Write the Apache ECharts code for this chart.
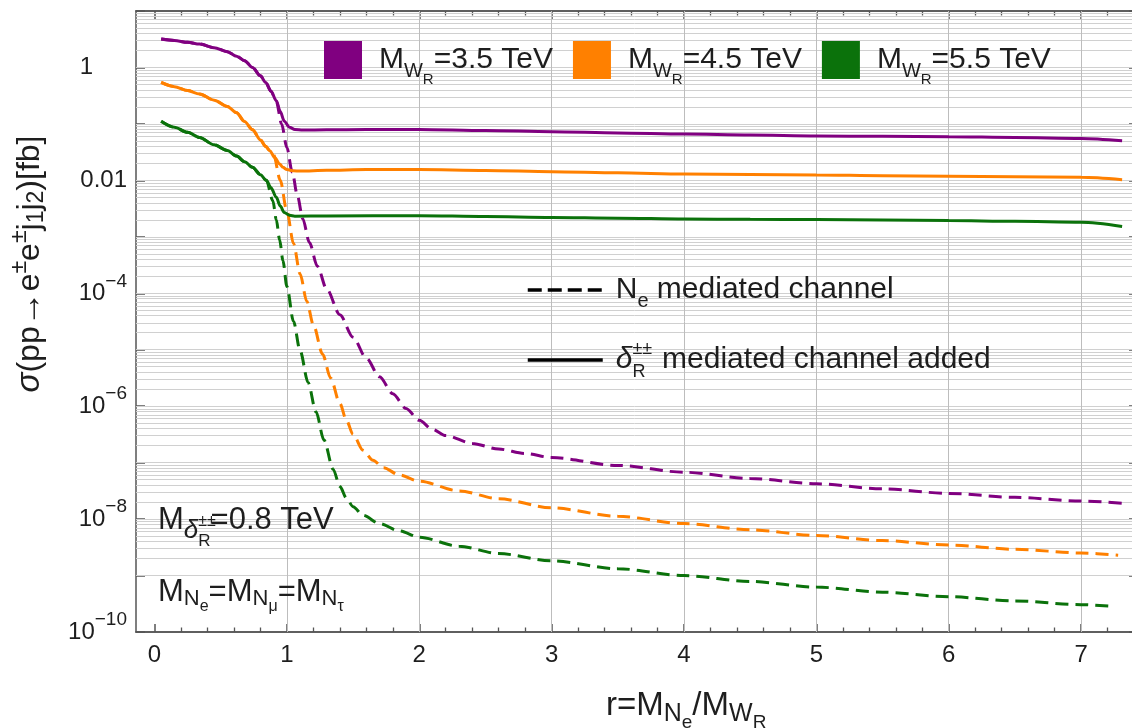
<!DOCTYPE html>
<html><head><meta charset="utf-8">
<script src="https://cdn.jsdelivr.net/npm/echarts@6/dist/echarts.min.js"></script>
<style>html,body{margin:0;padding:0;background:#fff}#c{width:1132px;height:728px}</style>
</head><body><div id="c"></div>
<script>
// ---------------- data (r = M_Ne / M_WR, sigma in fb) ----------------
const massLabels = ['3.5', '4.5', '5.5'];
const colors = ['#800080', '#ff8000', '#0b720b'];

const purpleSolid = [[0.05,3.18],[0.15,3.0],[0.25,2.79],[0.34,2.6],[0.45,2.24],[0.55,1.9],[0.62,1.58],[0.68,1.32],[0.74,1.0],[0.80,0.71],[0.84,0.54],[0.88,0.38],[0.92,0.257],[0.95,0.166],[0.98,0.112],[1.02,0.087],[1.06,0.080],[1.12,0.078],[1.3,0.0785],[1.6,0.0794],[2.0,0.080],[2.5,0.0767],[3.0,0.0728],[3.5,0.0692],[4.0,0.066],[4.5,0.0634],[5.0,0.0612],[5.5,0.0603],[6.0,0.0594],[6.5,0.0575],[7.0,0.0553],[7.31,0.0504]];
const purpleDashed = [[0.05,3.18],[0.15,3.0],[0.25,2.79],[0.34,2.6],[0.45,2.24],[0.55,1.9],[0.62,1.58],[0.68,1.32],[0.74,1.0],[0.80,0.71],[0.84,0.54],[0.88,0.38],[0.92,0.251],[0.96,0.1],[1.0,0.038],[1.04,0.0141],[1.08,5.25e-3],[1.12,2.09e-3],[1.17,7.94e-4],[1.23,3.02e-4],[1.3,1.2e-4],[1.4,4.17e-5],[1.5,1.66e-5],[1.6,7.08e-6],[1.7,3.31e-6],[1.8,1.66e-6],[1.9,9.12e-7],[2.0,5.62e-7],[2.1,3.89e-7],[2.2,3.02e-7],[2.4,2.19e-7],[2.6,1.74e-7],[2.8,1.45e-7],[3.0,1.23e-7],[3.5,8.91e-8],[4.0,6.76e-8],[4.5,5.25e-8],[5.0,4.22e-8],[5.5,3.43e-8],[6.0,2.85e-8],[6.5,2.43e-8],[7.0,2.09e-8],[7.31,1.91e-8]];

const orangeSolid = [[0.05,0.543],[0.15,0.457],[0.25,0.389],[0.34,0.339],[0.45,0.263],[0.55,0.204],[0.62,0.158],[0.68,0.11],[0.74,0.079],[0.80,0.052],[0.84,0.04],[0.87,0.0336],[0.91,0.0251],[0.945,0.0195],[0.97,0.017],[1.0,0.0155],[1.05,0.0148],[1.1,0.0146],[1.3,0.0151],[1.6,0.0155],[2.0,0.0155],[2.5,0.015],[3.0,0.01426],[3.5,0.01365],[4.0,0.01294],[4.5,0.01274],[5.0,0.01245],[5.5,0.0121],[6.0,0.01186],[6.5,0.0116],[7.0,0.0113],[7.31,0.01028]];
const orangeDashed = [[0.05,0.543],[0.15,0.457],[0.25,0.389],[0.34,0.339],[0.45,0.263],[0.55,0.204],[0.62,0.158],[0.68,0.11],[0.74,0.079],[0.80,0.052],[0.84,0.04],[0.87,0.0336],[0.90,0.0282],[0.95,0.01],[1.0,2.82e-3],[1.05,7.59e-4],[1.1,2.19e-4],[1.15,7.24e-5],[1.2,2.75e-5],[1.27,8.32e-6],[1.33,3.16e-6],[1.4,1.12e-6],[1.45,5.62e-7],[1.5,3.16e-7],[1.575,1.66e-7],[1.65,1.10e-7],[1.73,8.13e-8],[1.85,6.03e-8],[2.0,4.68e-8],[2.3,3.16e-8],[2.6,2.29e-8],[3.0,1.58e-8],[3.5,1.12e-8],[4.0,8.32e-9],[4.5,6.46e-9],[5.0,5.13e-9],[5.5,4.17e-9],[6.0,3.47e-9],[6.5,2.92e-9],[7.0,2.51e-9],[7.28,2.29e-9]];

const greenSolid = [[0.05,0.111],[0.15,0.087],[0.25,0.071],[0.34,0.0575],[0.45,0.0427],[0.55,0.0339],[0.62,0.0269],[0.68,0.0214],[0.74,0.017],[0.80,0.0126],[0.845,0.01],[0.88,7.4e-3],[0.92,5.0e-3],[0.95,3.5e-3],[0.98,2.7e-3],[1.02,2.4e-3],[1.06,2.32e-3],[1.3,2.34e-3],[2.0,2.37e-3],[2.5,2.29e-3],[3.0,2.21e-3],[3.5,2.14e-3],[4.0,2.07e-3],[4.5,2.04e-3],[5.0,2.02e-3],[5.5,1.98e-3],[6.0,1.94e-3],[6.5,1.88e-3],[7.0,1.81e-3],[7.31,1.53e-3]];
const greenDashed = [[0.05,0.111],[0.15,0.087],[0.25,0.071],[0.34,0.0575],[0.45,0.0427],[0.55,0.0339],[0.62,0.0269],[0.68,0.0214],[0.74,0.017],[0.80,0.0126],[0.845,0.01],[0.894,4.37e-3],[0.92,2.0e-3],[0.945,8.9e-4],[0.97,3.8e-4],[1.0,1.32e-4],[1.05,3.16e-5],[1.1,9.55e-6],[1.16,2.63e-6],[1.22,7.94e-7],[1.28,2.51e-7],[1.35,7.59e-8],[1.4,3.8e-8],[1.45,2.34e-8],[1.5,1.66e-8],[1.575,1.17e-8],[1.7,8.32e-9],[1.85,6.17e-9],[2.0,4.79e-9],[2.3,3.31e-9],[2.6,2.45e-9],[3.0,1.82e-9],[3.5,1.32e-9],[4.0,1.0e-9],[4.5,7.85e-10],[5.0,6.24e-10],[5.5,5.07e-10],[6.0,4.22e-10],[6.5,3.55e-10],[7.0,3.05e-10],[7.23,2.85e-10]];

// tick labels / tick positions
const xTickValues = [0, 1, 2, 3, 4, 5, 6, 7];
const yTickValues = [1e-10, 1e-9, 1e-8, 1e-7, 1e-6, 1e-5, 1e-4, 1e-3, 1e-2, 1e-1, 1, 10];
const yLabelValues = [1e-10, 1e-8, 1e-6, 1e-4, 1e-2, 1];
const yLabelText = {'-10':'{b|10}{p|\u221210}', '-8':'{b|10}{p|\u22128}', '-6':'{b|10}{p|\u22126}', '-4':'{b|10}{p|\u22124}', '-2':'{b|0.01}', '0':'{one|1}'};

// ---------------- helpers (grid / minor tick positions) ----------------
const X_MIN = -0.14, X_MAX = 7.43;
const xMinorValues = [];
for (let i = 0; i <= 37; i++) { const v = Math.round(i * 2) / 10; if (v % 1 !== 0 && v < X_MAX) xMinorValues.push(v); }
const gridY = [];
for (let n = -9; n <= 0; n++) for (let k = 1; k <= 9; k++) gridY.push(Number((k * Math.pow(10, n)).toPrecision(3)));
const gridX = [1, 2, 3, 4, 5, 6, 7];

const FONT = '"Liberation Sans", Arial, sans-serif';
const TXT = '#1e1e1e';
const AX = '#555';

function st(size, extra) { return Object.assign({fontSize: size, fontFamily: FONT, color: TXT}, extra || {}); }
const rich = {
  // legend text (30px)
  t: st(30),
  m: st(30, {padding: [0, 0, 0, 12]}),
  n: st(30, {padding: [0, 0, 0, 8]}),
  d: st(30, {fontStyle: 'italic', padding: [0, 0, 0, 8]}),
  s: st(20, {padding: [22, 0, 0, 0]}),
  ss: st(15, {padding: [40, 0, 0, 0]}),
  pz2: st(18, {width: 0, padding: [0, 0, 22, 0]}),
  rs2: st(18, {padding: [24, 0, 0, 0]}),
  // annotations
  A: st(31),
  As: st(22, {padding: [14, 0, 0, 0]}),
  Ass: st(16, {padding: [30, 0, 0, 0]}),
  Asd: st(26, {fontStyle: 'italic', padding: [22, 0, 0, 0]}),
  Apz: st(16, {width: 0, padding: [4, 0, 0, 0]}),
  Ars: st(17, {padding: [42, 0, 0, 0]}),
  // y title
  T: st(32),
  Tit: st(33, {fontStyle: 'italic'}),
  Ta: st(35),
  Tp: st(23, {padding: [0, 0, 20, 0]}),
  Tsj: st(23, {padding: [14, 0, 0, 0]}),
  // x title
  X: st(33),
  Xs: st(25, {padding: [16, 0, 0, 0]}),
  Xss: st(19, {padding: [34, 0, 0, 0]})
};

const chart = echarts.init(document.getElementById('c'), null, {renderer: 'canvas'});

function curve(name, data, color, dashed, z) {
  return {
    type: 'line', name: name, data: data, xAxisIndex: 0, yAxisIndex: 0,
    showSymbol: false, symbol: 'none', smooth: 0.3, smoothMonotone: 'x', z: z,
    lineStyle: {color: color, width: 3, type: dashed ? [13, 7] : 'solid'},
    itemStyle: {color: color}, emphasis: {disabled: true}, silent: true
  };
}

const xCommon = {
  type: 'value', min: X_MIN, max: X_MAX, splitLine: {show: false},
  axisLine: {show: true, onZero: false, lineStyle: {color: AX, width: 1.5}}
};
const yCommon = {
  type: 'log', logBase: 10, min: 1e-10, max: 10, splitLine: {show: false},
  axisLine: {show: true, onZero: false, lineStyle: {color: AX, width: 1.5}}
};

const option = {
  animation: false,
  backgroundColor: '#ffffff',
  grid: {left: 136, top: 11, width: 1002, height: 621, containLabel: false, outerBoundsMode: 'none'},
  xAxis: [
    Object.assign({}, xCommon, {position: 'bottom',
      axisTick: {show: true, inside: true, length: 8, customValues: xTickValues, lineStyle: {color: AX, width: 1.5}},
      axisLabel: {show: true, customValues: xTickValues, margin: 11, fontSize: 24, fontFamily: FONT, color: TXT, formatter: v => String(v)}}),
    Object.assign({}, xCommon, {position: 'bottom',
      axisTick: {show: true, inside: true, length: 4.5, customValues: xMinorValues, lineStyle: {color: AX, width: 1.3}},
      axisLabel: {show: false}}),
    Object.assign({}, xCommon, {position: 'top',
      axisTick: {show: true, inside: true, length: 8, customValues: xTickValues, lineStyle: {color: AX, width: 1.5}},
      axisLabel: {show: false}}),
    Object.assign({}, xCommon, {position: 'top',
      axisTick: {show: true, inside: true, length: 4.5, customValues: xMinorValues, lineStyle: {color: AX, width: 1.3}},
      axisLabel: {show: false}})
  ],
  yAxis: [
    Object.assign({}, yCommon, {position: 'left',
      axisTick: {show: true, inside: true, length: 9, customValues: yTickValues, lineStyle: {color: AX, width: 1.5}},
      axisLabel: {show: true, customValues: yLabelValues, margin: 9, color: TXT, fontFamily: FONT,
        formatter: v => yLabelText[String(Math.round(Math.log10(v)))] || '',
        rich: {
          b: {fontSize: 24, fontFamily: FONT, color: TXT},
          one: {fontSize: 24, fontFamily: FONT, color: TXT, padding: [0, 34, 0, 0]},
          p: {fontSize: 19, fontFamily: FONT, color: TXT, padding: [0, 0, 24, 0]}
        }}}),
    Object.assign({}, yCommon, {position: 'right',
      axisTick: {show: true, inside: true, length: 9, customValues: yTickValues, lineStyle: {color: AX, width: 1.5}},
      axisLabel: {show: false}})
  ],
  legend: [
    {
      data: ['w35', 'w45', 'w55'], left: 319, top: 36, orient: 'horizontal', z: 20,
      icon: 'rect', itemWidth: 38, itemHeight: 38, itemGap: 20, selectedMode: false,
      itemStyle: {borderWidth: 0, opacity: 1},
      formatter: name => '{m|M}{s|W}{ss|R}{t|=' + massLabels[['w35','w45','w55'].indexOf(name)] + ' TeV}',
      textStyle: {rich: rich, fontSize: 30, fontFamily: FONT, color: TXT}
    },
    {
      data: ['Ne'], left: 521, top: 270, itemWidth: 75, itemHeight: 20, selectedMode: false, z: 20,
      icon: 'inherit', itemStyle: {opacity: 0, color: 'rgba(0,0,0,0)', borderWidth: 0},
      lineStyle: {width: 3.5, color: '#000', type: [14, 6]},
      formatter: () => '{n|N}{s|e}{t| mediated channel}',
      textStyle: {rich: rich, fontSize: 30, fontFamily: FONT, color: TXT}
    },
    {
      data: ['dR'], left: 521, top: 335, itemWidth: 75, itemHeight: 20, selectedMode: false, z: 20,
      icon: 'inherit', itemStyle: {opacity: 0, color: 'rgba(0,0,0,0)', borderWidth: 0},
      lineStyle: {width: 3.5, color: '#000', type: 'solid'},
      formatter: () => '{d|\u03b4}{pz2|\u00b1\u00b1}{rs2|R}{t|  mediated channel added}',
      textStyle: {rich: rich, fontSize: 30, fontFamily: FONT, color: TXT}
    }
  ],
  graphic: [
    {type: 'text', x: 30, y: 264, rotation: Math.PI / 2, silent: true, z: 20,
      style: {text: '{Tit|\u03c3}{T|(pp}{Ta|\u2192}{T|e}{Tp|\u00b1}{T|e}{Tp|\u00b1}{T|j}{Tsj|1}{T|j}{Tsj|2}{T|)[fb]}', rich: rich, align: 'center', verticalAlign: 'middle', fontSize: 32, fontFamily: FONT, fill: TXT}},
    {type: 'text', x: 606, y: 706, silent: true, z: 20,
      style: {text: '{X|r=M}{Xs|N}{Xss|e}{X|/M}{Xs|W}{Xss|R}', rich: rich, align: 'left', verticalAlign: 'middle', fontSize: 33, fontFamily: FONT, fill: TXT}},
    {type: 'text', x: 158, y: 520, silent: true, z: 20,
      style: {text: '{A|M}{Asd|\u03b4}{Apz|\u00b1\u00b1}{Ars|R}{A|=0.8 TeV}', rich: rich, align: 'left', verticalAlign: 'middle', fontSize: 31, fontFamily: FONT, fill: TXT}},
    {type: 'text', x: 158, y: 592, silent: true, z: 20,
      style: {text: '{A|M}{As|N}{Ass|e}{A|=M}{As|N}{Ass|\u03bc}{A|=M}{As|N}{Ass|\u03c4}', rich: rich, align: 'left', verticalAlign: 'middle', fontSize: 31, fontFamily: FONT, fill: TXT}}
  ],
  series: [
    {type: 'line', name: 'grid', data: [], xAxisIndex: 0, yAxisIndex: 0, z: 1, silent: true,
      markLine: {silent: true, animation: false, z: 1, precision: 15, symbol: ['none', 'none'], label: {show: false},
        lineStyle: {color: '#d0d0d0', width: 1, type: 'solid'}, emphasis: {disabled: true},
        data: gridY.map(v => ({yAxis: v})).concat(gridX.map(v => ({xAxis: v, lineStyle: {color: '#bdbdbd', width: 1, type: 'solid'}})))}},
    curve('p-d', purpleDashed, colors[0], true, 3),
    curve('o-d', orangeDashed, colors[1], true, 3),
    curve('g-d', greenDashed, colors[2], true, 3),
    curve('w35', purpleSolid, colors[0], false, 4),
    curve('w45', orangeSolid, colors[1], false, 4),
    curve('w55', greenSolid, colors[2], false, 4),
    {type: 'line', name: 'Ne', data: [], symbol: 'none', showSymbol: false, color: '#000', lineStyle: {color: '#000', width: 3.5, type: [14, 6]}},
    {type: 'line', name: 'dR', data: [], symbol: 'none', showSymbol: false, color: '#000', lineStyle: {color: '#000', width: 3.5, type: 'solid'}}
  ]
};
chart.setOption(option);
</script>
</body></html>
